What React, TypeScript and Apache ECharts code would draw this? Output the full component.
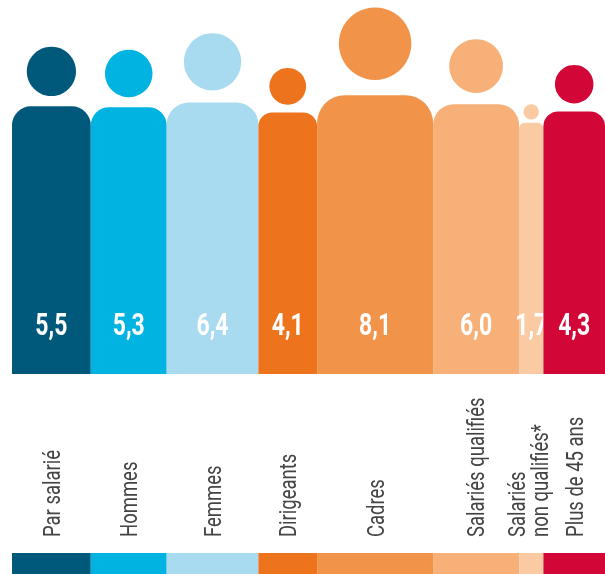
import React, { useEffect, useRef } from "react";
import * as echarts from "echarts";

const categories = [
  "Par salarié",
  "Hommes",
  "Femmes",
  "Dirigeants",
  "Cadres",
  "Salariés qualifiés",
  "Salariés\nnon qualifiés*",
  "Plus de 45 ans",
];
const values = [5.5, 5.3, 6.4, 4.1, 8.1, 6.0, 1.7, 4.3];
const valueLabels = ["5,5", "5,3", "6,4", "4,1", "8,1", "6,0", "1,7", "4,3"];
const colors = [
  "#00587B",
  "#00B3E1",
  "#A8DAF0",
  "#EE731D",
  "#F2934A",
  "#F6B078",
  "#FACBA2",
  "#D20637",
];

const FONT = "Roboto, 'Noto Sans', sans-serif";

export default function App() {
  const ref = useRef<HTMLDivElement>(null);
  useEffect(() => {
    if (!ref.current) return;
    const chart = echarts.init(ref.current, null, { renderer: "svg" });
    const starts: number[] = [];
    let acc = 0;
    values.forEach((v) => {
      starts.push(acc);
      acc += v;
    });
    const data = values.map((v, i) => [starts[i], v, i]);

    const renderItem = (params: any, api: any) => {
      const start = api.value(0);
      const v = api.value(1);
      const i = api.value(2);
      const p0 = api.coord([start, 0]);
      const p1 = api.coord([start + v, 0]);
      const x0 = p0[0];
      const w = p1[0] - p0[0];
      const bottom = p0[1];
      const cx = x0 + w / 2;
      const bodyTop = bottom - (244 + 0.3 * w);
      const headR = 0.3125 * w;
      const headCy = bodyTop - 0.444 * w;
      const cr = 0.24 * w;
      const color = colors[i];
      const lines = categories[i].split("\n");
      return {
        type: "group",
        children: [
          {
            type: "circle",
            shape: { cx, cy: headCy, r: headR },
            style: { fill: color },
          },
          {
            type: "rect",
            shape: { x: x0, y: bodyTop, width: w, height: bottom - bodyTop, r: [cr, cr, 0, 0] },
            style: { fill: color },
          },
          {
            type: "text",
            x: cx,
            y: 324,
            scaleX: 0.72,
            style: {
              text: valueLabels[i],
              fill: "#ffffff",
              font: `bold 32px ${FONT}`,
              align: "center",
              verticalAlign: "middle",
            },
          },
          {
            type: "text",
            x: cx + (lines.length > 1 ? -3 : 0),
            y: 537,
            rotation: Math.PI / 2,
            scaleX: 0.77,
            style: {
              text: categories[i],
              fill: "#444444",
              font: `24px ${FONT}`,
              lineHeight: 23,
              align: "left",
              verticalAlign: "middle",
            },
          },
          {
            type: "rect",
            shape: { x: x0, y: 553, width: w, height: 21 },
            style: { fill: color },
          },
        ],
      };
    };

    chart.setOption({
      animation: false,
      grid: { left: 12, width: 596, top: 0, bottom: 200, containLabel: false },
      xAxis: { type: "value", min: 0, max: 41.4, show: false },
      yAxis: { type: "value", min: 0, max: 10, show: false },
      series: [
        {
          type: "custom",
          renderItem,
          data,
          clip: false,
        },
      ],
    });
    return () => chart.dispose();
  }, []);
  return (
    <div
      ref={ref}
      style={{ position: "fixed", left: 0, top: 0, width: 605, height: 574 }}
    />
  );
}
